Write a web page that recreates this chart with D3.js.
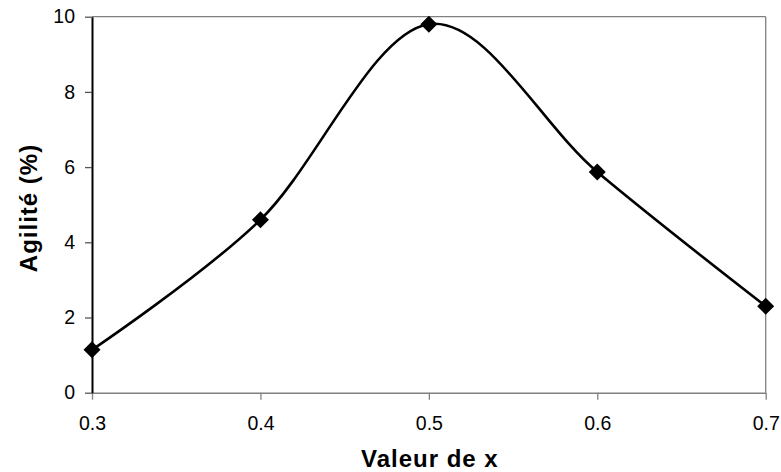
<!DOCTYPE html>
<html>
<head>
<meta charset="utf-8">
<script src="https://cdn.jsdelivr.net/npm/d3@7"></script>
<style>
  html, body { margin: 0; padding: 0; background: #fff; }
  svg { display: block; }
  text { font-family: Arial, "Liberation Sans", sans-serif; }
</style>
</head>
<body>
<svg id="chart" width="781" height="472"></svg>
<script>
const xValues = [0.3, 0.4, 0.5, 0.6, 0.7];
const agility = [1.14, 4.6, 9.8, 5.87, 2.3];
const xTicks = [0.3, 0.4, 0.5, 0.6, 0.7];
const yTicks = [0, 2, 4, 6, 8, 10];
const xTitle = "Valeur de x";
const yTitle = "Agilité (%)";

(function () {
const svg = d3.select("#chart");
const pLeft = 92, pRight = 765.7, pTop = 16.7, pBottom = 392.7;

const x = d3.scaleLinear().domain([0.3, 0.7]).range([pLeft, pRight]);
const y = d3.scaleLinear().domain([0, 10]).range([pBottom, pTop]);

// plot border (top & right, gray)
svg.append("line").attr("x1", pLeft).attr("x2", pRight).attr("y1", pTop).attr("y2", pTop)
  .attr("stroke", "#808080").attr("stroke-width", 1.3);
svg.append("line").attr("x1", pRight).attr("x2", pRight).attr("y1", pTop).attr("y2", pBottom)
  .attr("stroke", "#808080").attr("stroke-width", 1.3);

// x axis
const xAxis = svg.append("g").attr("transform", `translate(0,${pBottom})`)
  .call(d3.axisBottom(x).tickValues(xTicks).tickFormat(d3.format(".1f")).tickSizeInner(7).tickSizeOuter(0).tickPadding(16));
xAxis.select(".domain").attr("stroke", "#808080").attr("stroke-width", 1.5);
xAxis.selectAll(".tick line").attr("stroke", "#808080").attr("stroke-width", 1.3);
xAxis.selectAll(".tick text").attr("font-size", "19.5px").attr("fill", "#000")
  .attr("font-family", "Arial, 'Liberation Sans', sans-serif");

// y axis
const yAxis = svg.append("g").attr("transform", `translate(${pLeft},0)`)
  .call(d3.axisLeft(y).tickValues(yTicks).tickSizeInner(7).tickSizeOuter(0).tickPadding(10));
yAxis.select(".domain").attr("stroke", "#000").attr("stroke-width", 2);
yAxis.selectAll(".tick line").attr("stroke", "#555").attr("stroke-width", 1.3);
yAxis.selectAll(".tick text").attr("font-size", "19.5px").attr("fill", "#000")
  .attr("font-family", "Arial, 'Liberation Sans', sans-serif");

// line
const data = xValues.map((v, i) => ({ x: v, y: agility[i] }));
const line = d3.line().x(d => x(d.x)).y(d => y(d.y)).curve(d3.curveCardinal.tension(0));
svg.append("path").datum(data).attr("d", line)
  .attr("fill", "none").attr("stroke", "#000").attr("stroke-width", 2.6)
  .attr("stroke-linejoin", "round");

// diamond markers
const r = 8.5;
svg.selectAll("path.marker").data(data).enter().append("path")
  .attr("class", "marker")
  .attr("d", d => {
    const cx = x(d.x), cy = y(d.y);
    return `M${cx},${cy - r}L${cx + r},${cy}L${cx},${cy + r}L${cx - r},${cy}Z`;
  })
  .attr("fill", "#000");

// titles
svg.append("text").attr("x", (pLeft + pRight) / 2 + 1).attr("y", 467)
  .attr("text-anchor", "middle").attr("font-size", "24px").attr("font-weight", "bold")
  .attr("letter-spacing", "1px").text(xTitle);
svg.append("text").attr("transform", `translate(37,208) rotate(-90)`)
  .attr("text-anchor", "middle").attr("font-size", "24px").attr("font-weight", "bold")
  .attr("letter-spacing", "1px").text(yTitle);
})();
</script>
</body>
</html>
